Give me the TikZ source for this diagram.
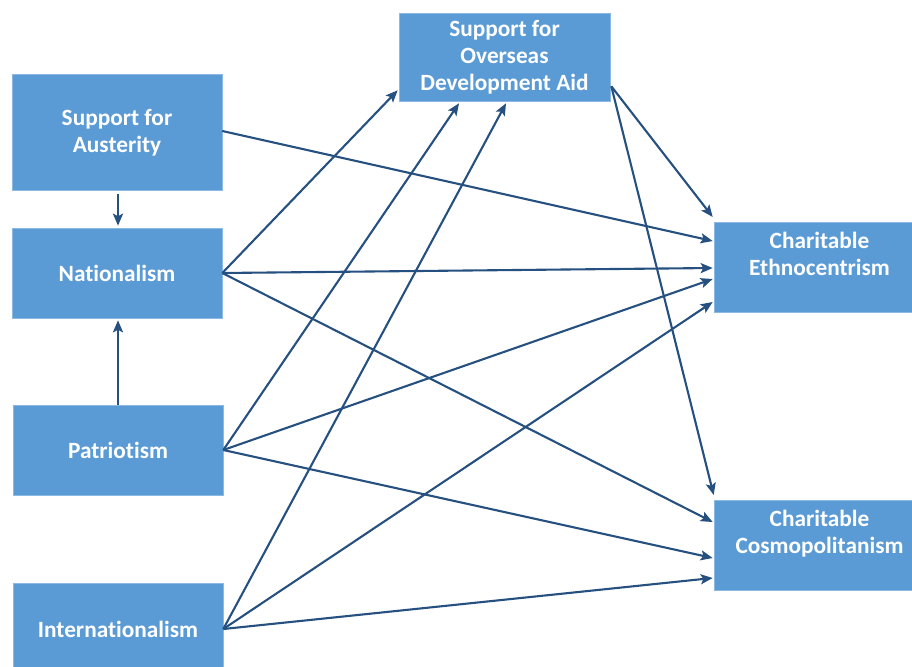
\documentclass[tikz,border=0pt]{standalone}
\usepackage{fontspec}
\setmainfont{Carlito}[Ligatures=NoCommon]
\usetikzlibrary{arrows.meta,calc}
\definecolor{boxblue}{RGB}{91,155,213}
\definecolor{arrowblue}{RGB}{37,80,128}
\begin{document}
\begin{tikzpicture}[x=1pt,y=-1pt,
  box/.style={fill=boxblue, draw=boxblue!70!white, line width=0.6pt, text=white, font=\fontsize{23.3}{27}\selectfont\bfseries, align=center, inner sep=0pt},
  conn/.style={draw=arrowblue, line width=2.1pt, -{Stealth[length=12pt,width=10pt,inset=2.5pt]}}]
\useasboundingbox (0,0) rectangle (912,666);
\node[box, minimum width=210, minimum height=116] (aus) at (117,132.5) {Support for\\Austerity};
\node[box, minimum width=210, minimum height=90] (nat) at (117,273) {Nationalism};
\node[box, minimum width=210, minimum height=90] (pat) at (118,450) {Patriotism};
\node[box, minimum width=210, minimum height=92] (intl) at (118,629) {Internationalism};
\node[box, minimum width=211, minimum height=88] (oda) at (504.5,57) {Support for\\Overseas\\Development Aid};
\node[box, minimum width=211, minimum height=90] (eth) at (819.5,267) {Charitable\\Ethnocentrism\\\mbox{}};
\node[box, minimum width=211, minimum height=90] (cos) at (819.5,545) {Charitable\\Cosmopolitanism\\\mbox{}};
% vertical links
\draw[conn] ($(aus.south)+(1,3)$) -- ($(nat.north)+(1,-2)$);
\draw[conn] (pat.north) -- ($(nat.south)+(1,2)$);
% to ODA
\draw[conn] (nat.east) -- ($(oda.south west)+(-1,-11)$);
\draw[conn] (pat.east) -- ($(oda.south)+(-45.5,2)$);
\draw[conn] (intl.east) -- ($(oda.south)+(1.5,2)$);
% to Ethnocentrism
\draw[conn] ($(aus.east)+(0,-1.5)$) -- ($(eth.west)+(-1,-26)$);
\draw[conn] (nat.east) -- ($(eth.west)+(-1,1)$);
\draw[conn] (pat.east) -- ($(eth.west)+(-1,12)$);
\draw[conn] (intl.east) -- ($(eth.west)+(-1,35)$);
\draw[conn] ($(oda.south east)+(1,-15)$) -- ($(eth.west)+(-1,-50)$);
% to Cosmopolitanism
\draw[conn] (nat.east) -- ($(cos.west)+(-1,-23)$);
\draw[conn] (pat.east) -- ($(cos.west)+(-1,13)$);
\draw[conn] (intl.east) -- ($(cos.west)+(-1,33)$);
\draw[conn] ($(oda.south east)+(1,-15)$) -- ($(cos.west)+(0,-50)$);
\end{tikzpicture}
\end{document}
